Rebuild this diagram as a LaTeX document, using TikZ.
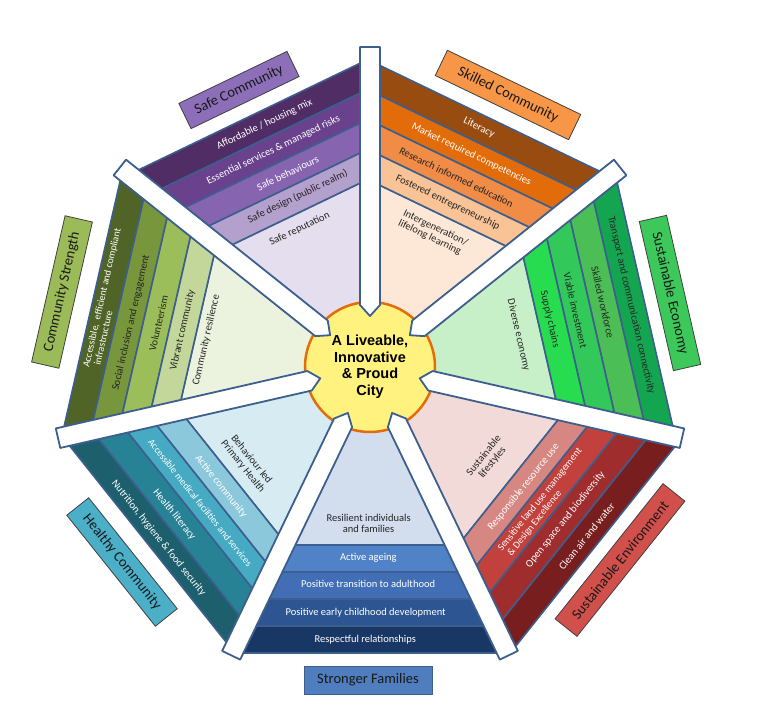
\documentclass[tikz,border=0pt]{standalone}
\usepackage{fontspec}
\setmainfont{Carlito}
\newfontfamily\hubfont{Liberation Sans}
\usepackage{tikz}

\definecolor{edge}{HTML}{3D5F8E}
\definecolor{hubedge}{HTML}{E46C0A}
\definecolor{hubfill}{HTML}{FFF27E}
% safe community
\definecolor{safeA}{HTML}{502D64}
\definecolor{safeB}{HTML}{69418C}
\definecolor{safeC}{HTML}{8764AF}
\definecolor{safeD}{HTML}{B4A0CD}
\definecolor{safeE}{HTML}{E4DEEE}
\definecolor{safeL}{HTML}{8C6EB9}
% community strength
\definecolor{strengthA}{HTML}{506428}
\definecolor{strengthB}{HTML}{78963C}
\definecolor{strengthC}{HTML}{9BBE5A}
\definecolor{strengthD}{HTML}{C3D79B}
\definecolor{strengthE}{HTML}{EBF2DE}
\definecolor{strengthL}{HTML}{9BBB59}
% healthy community
\definecolor{healthA}{HTML}{1E5F6E}
\definecolor{healthB}{HTML}{288296}
\definecolor{healthC}{HTML}{46AAC3}
\definecolor{healthD}{HTML}{8CC8DC}
\definecolor{healthE}{HTML}{D7EBF2}
\definecolor{healthL}{HTML}{4BAFC8}
% stronger families
\definecolor{familyA}{HTML}{193764}
\definecolor{familyB}{HTML}{2D5591}
\definecolor{familyC}{HTML}{416EB4}
\definecolor{familyD}{HTML}{5082C8}
\definecolor{familyE}{HTML}{D2DEEE}
\definecolor{familyL}{HTML}{507DBE}
% sustainable environment
\definecolor{environA}{HTML}{781E1E}
\definecolor{environB}{HTML}{A02D2D}
\definecolor{environC}{HTML}{C3413C}
\definecolor{environD}{HTML}{D78782}
\definecolor{environE}{HTML}{F2DAD8}
\definecolor{environL}{HTML}{D2504B}
% sustainable economy
\definecolor{economyA}{HTML}{14A550}
\definecolor{economyB}{HTML}{4BBE55}
\definecolor{economyC}{HTML}{32C85A}
\definecolor{economyD}{HTML}{28DC50}
\definecolor{economyE}{HTML}{C8F0C8}
\definecolor{economyL}{HTML}{3CC85A}
% skilled community
\definecolor{skilledA}{HTML}{994C10}
\definecolor{skilledB}{HTML}{E36C0A}
\definecolor{skilledC}{HTML}{F08C46}
\definecolor{skilledD}{HTML}{FAC396}
\definecolor{skilledE}{HTML}{FDE8D7}
\definecolor{skilledL}{HTML}{F79646}

\begin{document}
\begin{tikzpicture}[x=1pt,y=1pt,
  sector/.style={draw=edge,line width=1.6,line join=round},
  spoke/.style={draw=edge,fill=white,line width=1.8,line join=round},
  dtxt/.style={font=\fontsize{10.5}{11}\selectfont,text=black!85,align=center,inner sep=0pt},
  wtxt/.style={dtxt,text=white},
  tag/.style={draw=black!75,line width=0.8,font=\fontsize{14.5}{16}\selectfont,
    minimum height=28,inner sep=2pt,text=black!90},
  hub/.style={circle,draw=hubedge,fill=hubfill,line width=2.5,minimum size=130,
    font=\hubfont\bfseries\fontsize{14.5}{16.5}\selectfont,align=center,inner sep=0pt}]

\useasboundingbox (-370,-347) rectangle (394,367);

% seven sectors, four bands and an inner part each
\foreach \i/\ap/\nm in {0/278/safe,1/285/strength,2/284/health,3/286/family,
                        4/288/environ,5/282/economy,6/276/skilled}{
  \pgfmathsetmacro\ta{90+51.4286*\i}
  \pgfmathsetmacro\tb{\ta+51.4286}
  \pgfmathsetmacro\rin{(\ap-108)*1.10992}
  \filldraw[sector,fill=\nm E] (0,0) -- (\ta:\rin) -- (\tb:\rin) -- cycle;
  \foreach \k/\c in {0/A,1/B,2/C,3/D}{
    \pgfmathsetmacro\ro{(\ap-27*\k)*1.10992}
    \pgfmathsetmacro\ri{(\ap-27*\k-27)*1.10992}
    \filldraw[sector,fill=\nm\c] (\ta:\ro) -- (\tb:\ro) -- (\tb:\ri) -- (\ta:\ri) -- cycle;
  }
}

\node[hub] (city) at (0,0) {A Liveable,\\Innovative\\\& Proud\\City};

% spokes
\foreach \i in {0,...,6}
  \filldraw[spoke,rotate=90+51.4286*\i] (51,0) -- (62,10) -- (320,10) -- (320,-10) -- (62,-10) -- cycle;

% safe community
\node[wtxt,rotate=25.7] (affordable) at (113.5:264.5) {Affordable / housing mix};
\node[wtxt,rotate=25.7] (essential) at (114:237.5) {Essential services \& managed risks};
\node[wtxt,rotate=25.7] (behaviours) at (113:210.5) {Safe behaviours};
\node[dtxt,rotate=25.7] (design) at (113:185) {Safe design (public realm)};
\node[dtxt,rotate=25.7] (reputation) at (117:155) {Safe reputation};

% skilled community
\node[wtxt,rotate=-25.7] (literacy) at (65.5:263) {Literacy};
\node[wtxt,rotate=-25.7] (market) at (64.5:235.5) {Market required competencies};
\node[dtxt,rotate=-25.7] (research) at (65.5:208.5) {Research informed education};
\node[dtxt,rotate=-25.7] (fostered) at (64.7:182) {Fostered entrepreneurship};
\node[dtxt,rotate=-25.7,align=left] (lifelong) at (64.8:148) {Intergeneration/\\lifelong learning};

% sustainable economy
\node[dtxt,rotate=-77.1] (transport) at (13.3:268.5) {Transport and communication connectivity};
\node[dtxt,rotate=-77.1] (workforce) at (15.5:241.5) {Skilled workforce};
\node[dtxt,rotate=-77.1] (investment) at (15.4:213) {Viable investment};
\node[dtxt,rotate=-77.1] (supply) at (14.8:186) {Supply chains};
\node[dtxt,rotate=-77.1] (diverse) at (12.2:152) {Diverse economy};

% sustainable environment
\node[wtxt,rotate=51.4] (cleanair) at (-38:275) {Clean air and water};
\node[wtxt,rotate=51.4] (openspace) at (-38:248) {Open space and biodiversity};
\node[wtxt,rotate=51.4,align=left,font=\fontsize{10}{10.5}\selectfont] (landuse) at (-38:221) {Sensitive land use management\\\ \& Design Excellence};
\node[wtxt,rotate=51.4] (resource) at (-38:195) {Responsible resource use};
\node[dtxt,rotate=51.4] (lifestyles) at (-38:150) {Sustainable\\lifestyles};

% stronger families
\node[wtxt] (respectful) at (-91:272.5) {Respectful relationships};
\node[wtxt] (earlychild) at (-91:246) {Positive early childhood development};
\node[wtxt] (transition) at (-90.5:217) {Positive transition to adulthood};
\node[wtxt] (ageing) at (-90.5:190.5) {Active ageing};
\node[dtxt] (resilient) at (-90.5:156) {Resilient individuals\\and families};

% healthy community
\node[wtxt,rotate=-51.4] (nutrition) at (-141:272) {Nutrition, hygiene \& food security};
\node[wtxt,rotate=-51.4] (healthlit) at (-143:245) {Health literacy};
\node[wtxt,rotate=-51.4,font=\fontsize{9.8}{11}\selectfont] (medical) at (-141.3:217.5) {Accessible medical facilities and services};
\node[wtxt,rotate=-51.4] (activecom) at (-141.3:191) {Active community};
\node[dtxt,rotate=-51.4] (primary) at (-142:156) {Behaviour led\\Primary Health};

% community strength
\node[wtxt,rotate=77.1,align=left,font=\fontsize{10}{10.5}\selectfont] (infrastructure) at (165.5:272) {Accessible,\ \ efficient and compliant\\\ \ infrastructure};
\node[dtxt,rotate=77.1] (inclusion) at (169.5:243) {Social inclusion and engagement};
\node[dtxt,rotate=77.1] (volunteer) at (168.3:216) {Volunteerism};
\node[dtxt,rotate=77.1] (vibrant) at (168.9:191) {Vibrant community};
\node[dtxt,rotate=77.1] (resilience) at (170.7:166) {Community resilience};

% outcome tags
\node[tag,fill=safeL,rotate=25.7,minimum width=120] (safelbl) at (-131,277) {Safe Community};
\node[tag,fill=skilledL,rotate=-25.7,minimum width=148] (skilledlbl) at (138,272) {Skilled Community};
\node[tag,fill=economyL,rotate=-77.1,minimum width=153] (economylbl) at (300,74) {Sustainable Economy};
\node[tag,fill=environL,rotate=51.4,minimum width=173] (environlbl) at (250,-193) {Sustainable Environment};
\node[tag,fill=familyL,minimum width=128,draw=edge] (familylbl) at (-2,-313) {Stronger Families};
\node[tag,fill=healthL,rotate=-51.4,minimum width=142] (healthlbl) at (-248,-195) {Healthy Community};
\node[tag,fill=strengthL,rotate=77.1,minimum width=150] (strengthlbl) at (-308,75) {Community Strength};
\end{tikzpicture}
\end{document}
